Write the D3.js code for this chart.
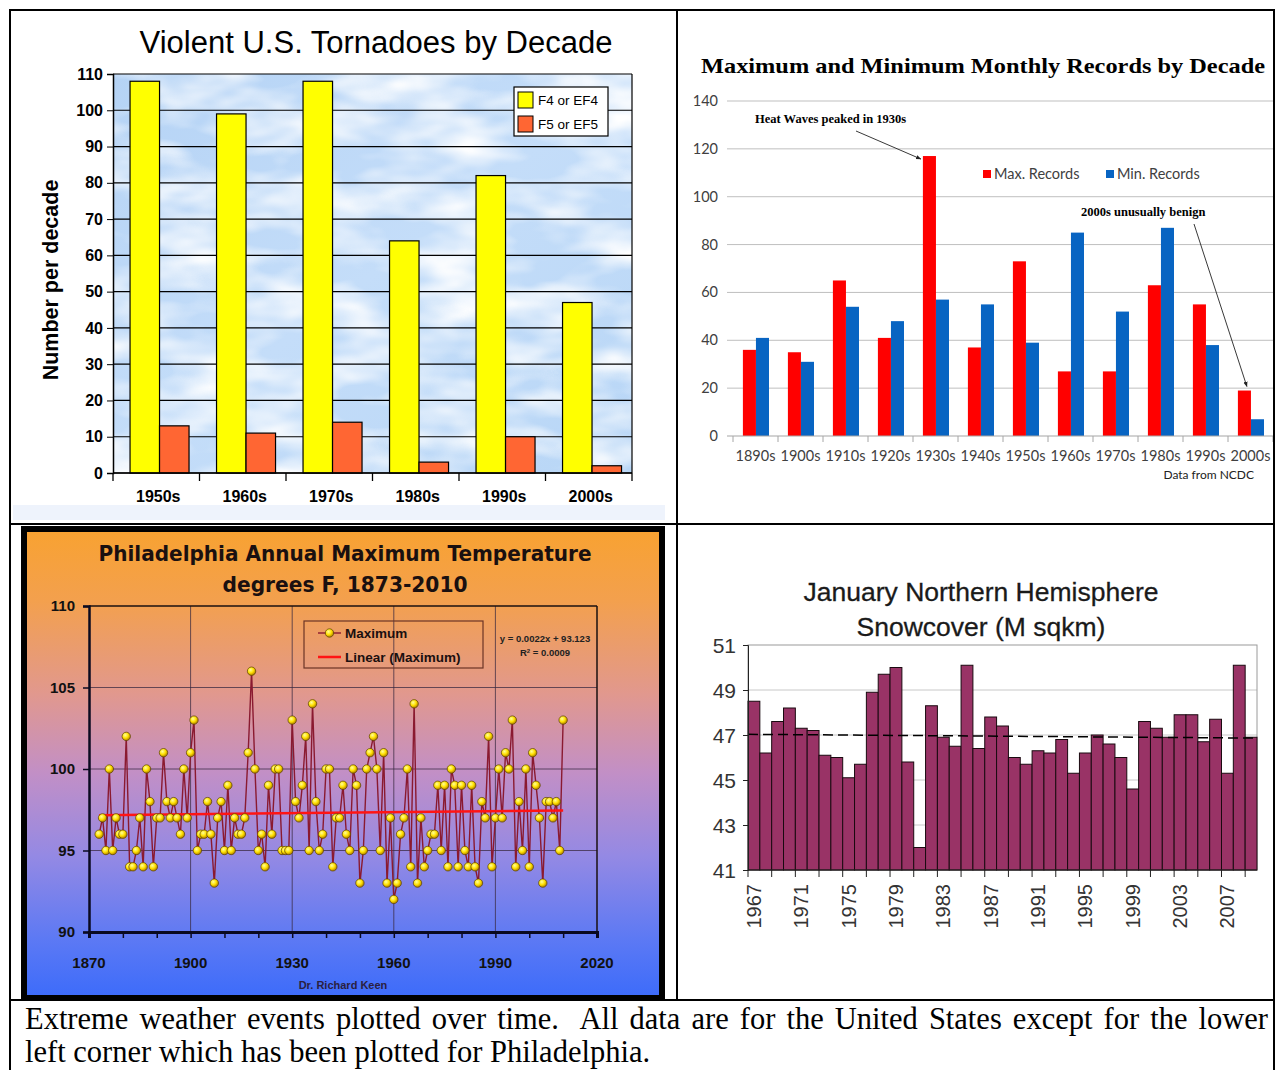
<!DOCTYPE html>
<html>
<head>
<meta charset="utf-8">
<script src="https://cdn.jsdelivr.net/npm/d3@7"></script>
<style>
  html, body { margin: 0; padding: 0; background: #fff; }
  svg { display: block; }
</style>
</head>
<body>
<svg id="page" width="1275" height="1070"></svg>
<script>
// ---- Data ----

// Violent U.S. tornadoes by decade
const tornadoDecades = ['1950s', '1960s', '1970s', '1980s', '1990s', '2000s'];
const f4Counts = [108, 99, 108, 64, 82, 47];
const f5Counts = [13, 11, 14, 3, 10, 2];
const tornadoTicks = [0, 10, 20, 30, 40, 50, 60, 70, 80, 90, 100, 110];

// Maximum and minimum monthly records by decade
const recordDecades = ['1890s', '1900s', '1910s', '1920s', '1930s', '1940s',
                       '1950s', '1960s', '1970s', '1980s', '1990s', '2000s'];
const maxRecords = [36, 35, 65, 41, 117, 37, 73, 27, 27, 63, 55, 19];
const minRecords = [41, 31, 54, 48, 57, 55, 39, 85, 52, 87, 38, 7];
const recordTicks = [0, 20, 40, 60, 80, 100, 120, 140];

// Philadelphia annual maximum temperature, 1873-2010
const phillyYears = d3.range(1873, 2011);
const phillyMaxTemps = [
  96, 97, 95, 100, 95, 97, 96, 96, 102, 94,
  94, 95, 97, 94, 100, 98, 94, 97, 97, 101,
  98, 97, 98, 97, 96, 100, 97, 101, 103, 95,
  96, 96, 98, 96, 93, 97, 98, 95, 99, 95,
  97, 96, 96, 97, 101, 106, 100, 95, 96, 94,
  99, 96, 100, 100, 95, 95, 95, 103, 98, 97,
  99, 102, 95, 104, 98, 95, 96, 100, 100, 94,
  97, 97, 99, 96, 95, 100, 99, 93, 95, 100,
  101, 102, 100, 95, 101, 93, 97, 92, 93, 96,
  97, 100, 94, 104, 93, 97, 94, 95, 96, 96,
  99, 95, 99, 94, 100, 99, 94, 99, 95, 94,
  99, 94, 93, 98, 97, 102, 94, 97, 100, 97,
  101, 100, 103, 94, 98, 95, 100, 94, 101, 99,
  97, 93, 98, 98, 97, 98, 95, 103
];
const phillyYTicks = [90, 95, 100, 105, 110];
const phillyXTicks = [1870, 1900, 1930, 1960, 1990, 2020];

// January Northern Hemisphere snowcover (M sqkm), 1967-2009
const snowYears = d3.range(1967, 2010);
const snowCover = [
  48.5, 46.2, 47.6, 48.2, 47.3, 47.2, 46.1, 46.0, 45.1, 45.7,
  48.9, 49.7, 50.0, 45.8, 42.0, 48.3, 46.9, 46.5, 50.1, 46.4,
  47.8, 47.4, 46.0, 45.7, 46.3, 46.2, 46.8, 45.3, 46.2, 47.0,
  46.6, 46.0, 44.6, 47.6, 47.3, 46.9, 47.9, 47.9, 46.7, 47.7,
  45.3, 50.1, 46.9
];
const snowTicks = [41, 43, 45, 47, 49, 51];

const captionLines = [
  'Extreme weather events plotted over time.  All data are for the United States except for the lower',
  'left corner which has been plotted for Philadelphia.'
];

const svg = d3.select('#page');

// least squares fit, used for the two trend lines
function linReg(xs, ys) {
  const mx = d3.mean(xs), my = d3.mean(ys);
  const slope = d3.sum(xs, (v, i) => (v - mx) * (ys[i] - my)) / d3.sum(xs, v => (v - mx) ** 2);
  return { slope, intercept: my - slope * mx };
}

function setupDefs() {
  const defs = svg.append('defs');

  const sky = defs.append('linearGradient').attr('id', 'skyGrad')
    .attr('x1', 0).attr('y1', 0).attr('x2', 1).attr('y2', 1);
  sky.append('stop').attr('offset', '0%').attr('stop-color', '#b5d3f5');
  sky.append('stop').attr('offset', '50%').attr('stop-color', '#c4ddf9');
  sky.append('stop').attr('offset', '100%').attr('stop-color', '#b8d6f6');

  const clouds = defs.append('filter').attr('id', 'clouds')
    .attr('x', 0).attr('y', 0).attr('width', 1).attr('height', 1);
  clouds.append('feTurbulence').attr('type', 'fractalNoise')
    .attr('baseFrequency', '0.012 0.028').attr('numOctaves', 3).attr('seed', 7);
  clouds.append('feColorMatrix').attr('type', 'matrix')
    .attr('values', '0 0 0 0 1  0 0 0 0 1  0 0 0 0 1  2.2 0 0 0 -0.8');
  clouds.append('feComposite').attr('operator', 'in').attr('in2', 'SourceGraphic');

  const phil = defs.append('linearGradient').attr('id', 'phillyGrad')
    .attr('x1', 0).attr('y1', 0).attr('x2', 0).attr('y2', 1);
  [['0%', '#f8a232'], ['15%', '#f3a04e'], ['35%', '#e1988e'], ['52%', '#c28fc6'],
   ['70%', '#9489e4'], ['88%', '#5c79f4'], ['100%', '#3e6cfa']]
    .forEach(([o, c]) => phil.append('stop').attr('offset', o).attr('stop-color', c));

  const dot = defs.append('radialGradient').attr('id', 'dotGrad')
    .attr('cx', '38%').attr('cy', '35%').attr('r', '65%');
  dot.append('stop').attr('offset', '0%').attr('stop-color', '#ffff9a');
  dot.append('stop').attr('offset', '55%').attr('stop-color', '#ffe000');
  dot.append('stop').attr('offset', '100%').attr('stop-color', '#b08000');

  const arrow = defs.append('marker').attr('id', 'arrowHead')
    .attr('viewBox', '0 0 10 10').attr('refX', 9).attr('refY', 5)
    .attr('markerWidth', 6).attr('markerHeight', 6).attr('orient', 'auto');
  arrow.append('path').attr('d', 'M0,1 L10,5 L0,9 z').attr('fill', '#222');
}

// ---- Top left: violent tornadoes ----
function drawTornadoes() {
  const g = svg.append('g');
  const left = 113, right = 632, top = 74, bottom = 473;
  const x = d3.scaleBand().domain(tornadoDecades).range([left, right]);
  const y = d3.scaleLinear().domain([0, 110]).range([bottom, top]);
  const bw = x.bandwidth();
  const font = 'Liberation Sans, Arial, sans-serif';

  // faint strip under the chart image
  g.append('rect').attr('x', 13).attr('y', 505).attr('width', 652).attr('height', 15).attr('fill', '#eef3fc');

  g.append('rect').attr('x', left).attr('y', top).attr('width', right - left).attr('height', bottom - top)
    .attr('fill', 'url(#skyGrad)');
  g.append('rect').attr('x', left).attr('y', top).attr('width', right - left).attr('height', bottom - top)
    .attr('fill', '#fff').attr('filter', 'url(#clouds)');

  g.append('g').selectAll('line').data(tornadoTicks).join('line')
    .attr('x1', left).attr('x2', right).attr('y1', d => y(d)).attr('y2', d => y(d))
    .attr('stroke', '#000').attr('stroke-width', 1.2);
  g.append('line').attr('x1', right).attr('x2', right).attr('y1', top).attr('y2', bottom)
    .attr('stroke', '#000').attr('stroke-width', 1.2);

  g.append('g').selectAll('rect').data(tornadoDecades).join('rect')
    .attr('x', d => x(d) + bw * 0.197).attr('width', bw * 0.341)
    .attr('y', (d, i) => y(f4Counts[i])).attr('height', (d, i) => bottom - y(f4Counts[i]))
    .attr('fill', '#ffff00').attr('stroke', '#000').attr('stroke-width', 1.2);
  g.append('g').selectAll('rect').data(tornadoDecades).join('rect')
    .attr('x', d => x(d) + bw * 0.538).attr('width', bw * 0.341)
    .attr('y', (d, i) => y(f5Counts[i])).attr('height', (d, i) => bottom - y(f5Counts[i]))
    .attr('fill', '#ff6633').attr('stroke', '#000').attr('stroke-width', 1.2);

  // axes
  const yAxis = g.append('g').attr('transform', `translate(${left},0)`)
    .call(d3.axisLeft(y).tickValues(tornadoTicks).tickSize(6).tickPadding(4));
  yAxis.select('.domain').attr('stroke', '#000').attr('stroke-width', 1.5);
  yAxis.selectAll('text').attr('font-family', font)
    .attr('font-weight', 'bold').attr('font-size', 16).attr('fill', '#000');

  g.append('line').attr('x1', left).attr('x2', right).attr('y1', bottom).attr('y2', bottom)
    .attr('stroke', '#000').attr('stroke-width', 1.5);
  const bounds = tornadoDecades.map(d => x(d)).concat([right]);
  g.append('g').selectAll('line').data(bounds).join('line')
    .attr('x1', d => d).attr('x2', d => d).attr('y1', bottom).attr('y2', bottom + 8)
    .attr('stroke', '#000').attr('stroke-width', 1.3);
  g.append('g').selectAll('text').data(tornadoDecades).join('text')
    .attr('x', d => x(d) + bw / 2 + 2).attr('y', 502).attr('text-anchor', 'middle')
    .attr('font-family', font).attr('font-weight', 'bold')
    .attr('font-size', 16).text(d => d);

  g.append('text').attr('x', 376).attr('y', 53).attr('text-anchor', 'middle')
    .attr('font-family', font).attr('font-size', 31)
    .text('Violent U.S. Tornadoes by Decade');
  g.append('text').attr('transform', 'translate(58,280) rotate(-90)').attr('text-anchor', 'middle')
    .attr('font-family', font).attr('font-weight', 'bold')
    .attr('font-size', 21.5).text('Number per decade');

  // legend
  const lg = g.append('g');
  lg.append('rect').attr('x', 514).attr('y', 87).attr('width', 94).attr('height', 49)
    .attr('fill', '#fff').attr('stroke', '#000').attr('stroke-width', 1.2);
  [['F4 or EF4', '#ffff00'], ['F5 or EF5', '#ff6633']].forEach(([name, col], i) => {
    lg.append('rect').attr('x', 518).attr('y', 92 + i * 24).attr('width', 15).attr('height', 16)
      .attr('fill', col).attr('stroke', '#000');
    lg.append('text').attr('x', 538).attr('y', 105 + i * 24)
      .attr('font-family', font).attr('font-size', 13.5).text(name);
  });
}

// ---- Top right: monthly records ----
function drawRecords() {
  const g = svg.append('g');
  const left = 733, right = 1273, top = 101, bottom = 436;
  const x = d3.scaleBand().domain(recordDecades).range([left, right]);
  const y = d3.scaleLinear().domain([0, 140]).range([bottom, top]);
  const bw = x.bandwidth();
  const font = 'Lato, Open Sans, sans-serif';

  g.append('g').selectAll('line').data(recordTicks.slice(1)).join('line')
    .attr('x1', left - 6).attr('x2', right).attr('y1', d => y(d)).attr('y2', d => y(d))
    .attr('stroke', '#bfbfbf').attr('stroke-width', 1);
  g.append('g').selectAll('text').data(recordTicks).join('text')
    .attr('x', 718).attr('y', d => y(d) + 5).attr('text-anchor', 'end')
    .attr('font-family', font).attr('font-size', 14.5).attr('fill', '#404040').text(d => d);

  g.append('g').selectAll('rect').data(recordDecades).join('rect')
    .attr('x', d => x(d) + bw * 0.22).attr('width', bw * 0.29)
    .attr('y', (d, i) => y(maxRecords[i])).attr('height', (d, i) => bottom - y(maxRecords[i]))
    .attr('fill', '#ff0000');
  g.append('g').selectAll('rect').data(recordDecades).join('rect')
    .attr('x', d => x(d) + bw * 0.51).attr('width', bw * 0.29)
    .attr('y', (d, i) => y(minRecords[i])).attr('height', (d, i) => bottom - y(minRecords[i]))
    .attr('fill', '#0864c2');

  g.append('line').attr('x1', left - 6).attr('x2', right).attr('y1', bottom).attr('y2', bottom)
    .attr('stroke', '#a6a6a6').attr('stroke-width', 1.2);
  const bounds = recordDecades.map(d => x(d)).concat([right]);
  g.append('g').selectAll('line').data(bounds).join('line')
    .attr('x1', d => d).attr('x2', d => d).attr('y1', bottom).attr('y2', bottom + 6)
    .attr('stroke', '#a6a6a6');
  g.append('g').selectAll('text').data(recordDecades).join('text')
    .attr('x', d => x(d) + bw / 2).attr('y', 461).attr('text-anchor', 'middle')
    .attr('font-family', font).attr('font-size', 14.5).attr('fill', '#404040').text(d => d);

  g.append('text').attr('x', 983).attr('y', 73).attr('text-anchor', 'middle')
    .attr('font-family', 'Liberation Serif, Times New Roman, serif').attr('font-weight', 'bold')
    .attr('font-size', 22).attr('textLength', 564).attr('lengthAdjust', 'spacingAndGlyphs')
    .text('Maximum and Minimum Monthly Records by Decade');

  // legend
  [['Max. Records', '#ff0000', 983], ['Min. Records', '#0864c2', 1106]].forEach(([name, col, lx]) => {
    g.append('rect').attr('x', lx).attr('y', 170).attr('width', 8).attr('height', 8).attr('fill', col);
    g.append('text').attr('x', lx + 11).attr('y', 179).attr('font-family', font)
      .attr('font-size', 14.5).attr('fill', '#404040').text(name);
  });

  // annotations
  const serif = 'Liberation Serif, Times New Roman, serif';
  g.append('text').attr('x', 755).attr('y', 123).attr('font-family', serif).attr('font-weight', 'bold')
    .attr('font-size', 12.5).text('Heat Waves peaked in 1930s');
  g.append('line').attr('x1', 856).attr('y1', 131)
    .attr('x2', x('1930s') + bw * 0.22 - 2).attr('y2', y(maxRecords[4]) + 3)
    .attr('stroke', '#222').attr('stroke-width', 0.9).attr('marker-end', 'url(#arrowHead)');
  g.append('text').attr('x', 1081).attr('y', 216).attr('font-family', serif).attr('font-weight', 'bold')
    .attr('font-size', 12.5).text('2000s unusually benign');
  g.append('line').attr('x1', 1194).attr('y1', 224)
    .attr('x2', x('2000s') + bw * 0.42).attr('y2', y(maxRecords[11]) - 4)
    .attr('stroke', '#222').attr('stroke-width', 0.9).attr('marker-end', 'url(#arrowHead)');

  g.append('text').attr('x', 1254).attr('y', 479).attr('text-anchor', 'end').attr('font-family', font)
    .attr('font-size', 12).attr('fill', '#222').text('Data from NCDC');
}

// ---- Bottom left: Philadelphia annual maximum ----
function drawPhilly() {
  const g = svg.append('g');
  const left = 89, right = 597, top = 606, bottom = 932;
  const x = d3.scaleLinear().domain([1870, 2020]).range([left, right]);
  const y = d3.scaleLinear().domain([90, 110]).range([bottom, top]);
  const font = 'Liberation Sans, Arial, sans-serif';

  g.append('rect').attr('x', 21).attr('y', 526).attr('width', 644).attr('height', 474).attr('fill', '#000');
  g.append('rect').attr('x', 27).attr('y', 532).attr('width', 632).attr('height', 463).attr('fill', 'url(#phillyGrad)');

  g.append('text').attr('x', 345).attr('y', 561).attr('text-anchor', 'middle')
    .attr('font-family', 'DejaVu Sans, Verdana, sans-serif').attr('font-weight', 'bold')
    .attr('font-size', 22).attr('fill', '#1a1010').attr('textLength', 493).attr('lengthAdjust', 'spacingAndGlyphs')
    .text('Philadelphia Annual Maximum Temperature');
  g.append('text').attr('x', 345).attr('y', 592).attr('text-anchor', 'middle')
    .attr('font-family', 'DejaVu Sans, Verdana, sans-serif').attr('font-weight', 'bold')
    .attr('font-size', 22).attr('fill', '#1a1010').attr('textLength', 245).attr('lengthAdjust', 'spacingAndGlyphs')
    .text('degrees F, 1873-2010');

  // grid and frame
  g.append('g').selectAll('line').data(phillyYTicks.slice(1, -1)).join('line')
    .attr('x1', left).attr('x2', right).attr('y1', d => y(d)).attr('y2', d => y(d))
    .attr('stroke', '#3a2a40').attr('stroke-opacity', 0.75).attr('stroke-width', 1);
  g.append('g').selectAll('line').data(phillyXTicks.slice(1, -1)).join('line')
    .attr('x1', d => x(d)).attr('x2', d => x(d)).attr('y1', top).attr('y2', bottom)
    .attr('stroke', '#3a2a40').attr('stroke-opacity', 0.75).attr('stroke-width', 1);
  g.append('line').attr('x1', left).attr('x2', right).attr('y1', top).attr('y2', top)
    .attr('stroke', '#1a1010').attr('stroke-width', 1.5);
  g.append('line').attr('x1', right).attr('x2', right).attr('y1', top).attr('y2', bottom)
    .attr('stroke', '#1a1010').attr('stroke-width', 1.5);

  const xAxis = g.append('g').attr('transform', `translate(0,${bottom})`)
    .call(d3.axisBottom(x).tickValues(d3.range(1870, 2021, 10)).tickSize(6).tickFormat(''));
  xAxis.select('.domain').attr('stroke', '#0a0a20').attr('stroke-width', 3);
  xAxis.selectAll('.tick line').attr('stroke', '#0a0a20').attr('stroke-width', 1.5);
  const yAxis = g.append('g').attr('transform', `translate(${left},0)`)
    .call(d3.axisLeft(y).tickValues(phillyYTicks).tickSize(6).tickFormat(''));
  yAxis.select('.domain').attr('stroke', '#0a0a20').attr('stroke-width', 2.5);
  yAxis.selectAll('.tick line').attr('stroke', '#0a0a20').attr('stroke-width', 1.5);

  g.append('g').selectAll('text').data(phillyYTicks).join('text')
    .attr('x', 75).attr('y', d => y(d) + 5).attr('text-anchor', 'end')
    .attr('font-family', font).attr('font-weight', 'bold').attr('font-size', 15).attr('fill', '#111')
    .text(d => d);
  g.append('g').selectAll('text').data(phillyXTicks).join('text')
    .attr('x', d => x(d)).attr('y', 968).attr('text-anchor', 'middle')
    .attr('font-family', font).attr('font-weight', 'bold').attr('font-size', 15).attr('fill', '#111')
    .text(d => d);

  // series, trend, markers
  const line = d3.line().x((d, i) => x(phillyYears[i])).y(d => y(d));
  g.append('path').datum(phillyMaxTemps).attr('d', line)
    .attr('fill', 'none').attr('stroke', '#8a1a30').attr('stroke-width', 1.4);

  const fit = linReg(phillyYears, phillyMaxTemps);
  const x0 = phillyYears[0], x1 = phillyYears[phillyYears.length - 1];
  g.append('line').attr('x1', x(x0)).attr('x2', x(x1))
    .attr('y1', y(fit.intercept + fit.slope * x0)).attr('y2', y(fit.intercept + fit.slope * x1))
    .attr('stroke', '#ff1414').attr('stroke-width', 2.5);

  g.append('g').selectAll('circle').data(phillyMaxTemps).join('circle')
    .attr('cx', (d, i) => x(phillyYears[i])).attr('cy', d => y(d)).attr('r', 4.2)
    .attr('fill', 'url(#dotGrad)').attr('stroke', '#5a4000').attr('stroke-width', 0.7);

  // legend
  g.append('rect').attr('x', 304).attr('y', 621).attr('width', 179).attr('height', 47)
    .attr('fill', 'none').attr('stroke', '#6b3526').attr('stroke-width', 1.2);
  g.append('line').attr('x1', 318).attr('x2', 341).attr('y1', 633).attr('y2', 633)
    .attr('stroke', '#8a1a30').attr('stroke-width', 1.4);
  g.append('circle').attr('cx', 329.5).attr('cy', 633).attr('r', 4.2)
    .attr('fill', 'url(#dotGrad)').attr('stroke', '#5a4000').attr('stroke-width', 0.7);
  g.append('text').attr('x', 345).attr('y', 638).attr('font-family', font).attr('font-weight', 'bold')
    .attr('font-size', 13.5).attr('fill', '#1a1010').text('Maximum');
  g.append('line').attr('x1', 318).attr('x2', 341).attr('y1', 657).attr('y2', 657)
    .attr('stroke', '#ff1414').attr('stroke-width', 2.5);
  g.append('text').attr('x', 345).attr('y', 662).attr('font-family', font).attr('font-weight', 'bold')
    .attr('font-size', 13.5).attr('fill', '#1a1010').text('Linear (Maximum)');

  g.append('text').attr('x', 545).attr('y', 642).attr('text-anchor', 'middle')
    .attr('font-family', 'Liberation Sans Narrow, Liberation Sans, sans-serif').attr('font-size', 9.5)
    .attr('font-weight', 'bold').attr('fill', '#222').text('y = 0.0022x + 93.123');
  const r2 = g.append('text').attr('x', 545).attr('y', 656).attr('text-anchor', 'middle')
    .attr('font-family', 'Liberation Sans Narrow, Liberation Sans, sans-serif').attr('font-size', 9.5)
    .attr('font-weight', 'bold').attr('fill', '#222');
  r2.append('tspan').text('R');
  r2.append('tspan').attr('dy', -3).attr('font-size', 6).text('2');
  r2.append('tspan').attr('dy', 3).text(' = 0.0009');

  g.append('text').attr('x', 343).attr('y', 989).attr('text-anchor', 'middle')
    .attr('font-family', font).attr('font-size', 11).attr('font-weight', 'bold')
    .attr('fill', '#2a2040').text('Dr. Richard Keen');
}

// ---- Bottom right: January snowcover ----
function drawSnow() {
  const g = svg.append('g');
  const left = 748, right = 1257, top = 645, bottom = 870;
  const x = d3.scaleBand().domain(snowYears).range([left, right]);
  const y = d3.scaleLinear().domain([41, 51]).range([bottom, top]);
  const bw = x.bandwidth();
  const font = 'Liberation Sans, Arial, sans-serif';

  g.append('text').attr('x', 981).attr('y', 601).attr('text-anchor', 'middle')
    .attr('font-family', font).attr('font-size', 26.5).attr('fill', '#1a1a1a')
    .attr('stroke', '#1a1a1a').attr('stroke-width', 0.3).text('January Northern Hemisphere');
  g.append('text').attr('x', 981).attr('y', 636).attr('text-anchor', 'middle')
    .attr('font-family', font).attr('font-size', 26.5).attr('fill', '#1a1a1a')
    .attr('stroke', '#1a1a1a').attr('stroke-width', 0.3).text('Snowcover (M sqkm)');

  g.append('g').selectAll('line').data(snowTicks.slice(1, -1)).join('line')
    .attr('x1', left).attr('x2', right).attr('y1', d => y(d)).attr('y2', d => y(d))
    .attr('stroke', '#c8c8c8');
  g.append('rect').attr('x', left).attr('y', top).attr('width', right - left).attr('height', bottom - top)
    .attr('fill', 'none').attr('stroke', '#9a9a9a');

  g.append('g').selectAll('rect').data(snowYears).join('rect')
    .attr('x', d => x(d)).attr('width', bw)
    .attr('y', (d, i) => y(snowCover[i])).attr('height', (d, i) => bottom - y(snowCover[i]))
    .attr('fill', '#993366').attr('stroke', '#1a0a10').attr('stroke-width', 1);

  const fit = linReg(snowYears, snowCover);
  const y0 = snowYears[0], y1 = snowYears[snowYears.length - 1];
  g.append('line').attr('x1', x(y0)).attr('x2', x(y1) + bw)
    .attr('y1', y(fit.intercept + fit.slope * y0)).attr('y2', y(fit.intercept + fit.slope * y1))
    .attr('stroke', '#000').attr('stroke-width', 1.5).attr('stroke-dasharray', '10,5');

  const yAxis = g.append('g').attr('transform', `translate(${left},0)`)
    .call(d3.axisLeft(y).tickValues(snowTicks).tickSize(5).tickFormat(''));
  yAxis.selectAll('path, line').attr('stroke', '#222');
  g.append('g').selectAll('text').data(snowTicks).join('text')
    .attr('x', 736).attr('y', d => y(d) + 8).attr('text-anchor', 'end')
    .attr('font-family', font).attr('font-size', 21).attr('fill', '#333').text(d => d);

  g.append('line').attr('x1', left).attr('x2', right).attr('y1', bottom).attr('y2', bottom)
    .attr('stroke', '#222').attr('stroke-width', 1.2);
  const tickYears = snowYears.filter(d => (d - 1967) % 2 === 0);
  g.append('g').selectAll('line').data(tickYears).join('line')
    .attr('x1', d => x(d)).attr('x2', d => x(d)).attr('y1', bottom).attr('y2', bottom + 7)
    .attr('stroke', '#222');
  const labelYears = snowYears.filter(d => (d - 1967) % 4 === 0);
  g.append('g').selectAll('text').data(labelYears).join('text')
    .attr('transform', d => `translate(${x(d) + bw / 2 + 7},884) rotate(-90)`)
    .attr('text-anchor', 'end').attr('font-family', font).attr('font-size', 20).attr('fill', '#333')
    .text(d => d);
}

// ---- table frame and caption ----
function drawFrame() {
  const g = svg.append('g').attr('stroke', '#000').attr('stroke-width', 2);
  g.append('line').attr('x1', 9).attr('x2', 1275).attr('y1', 10).attr('y2', 10);
  g.append('line').attr('x1', 10).attr('x2', 10).attr('y1', 9).attr('y2', 1070);
  g.append('line').attr('x1', 1274).attr('x2', 1274).attr('y1', 9).attr('y2', 1070);
  g.append('line').attr('x1', 677).attr('x2', 677).attr('y1', 10).attr('y2', 1000);
  g.append('line').attr('x1', 10).attr('x2', 1275).attr('y1', 524).attr('y2', 524);
  g.append('line').attr('x1', 10).attr('x2', 1275).attr('y1', 1000).attr('y2', 1000);

  const serif = 'Liberation Serif, Times New Roman, serif';
  const cap = svg.append('g').attr('font-family', serif).attr('font-size', 30.5).attr('fill', '#000');
  const first = cap.append('text').attr('x', 25).attr('y', 1029)
    .style('white-space', 'pre').text(captionLines[0]);
  cap.append('text').attr('x', 25).attr('y', 1062).text(captionLines[1]);

  // justify the first line by stretching the word gaps
  const natural = first.node().getComputedTextLength();
  const gaps = captionLines[0].split(' ').length - 1;
  first.attr('word-spacing', (1243 - natural) / gaps);
}

setupDefs();
drawTornadoes();
drawRecords();
drawPhilly();
drawSnow();
drawFrame();
</script>
</body>
</html>
